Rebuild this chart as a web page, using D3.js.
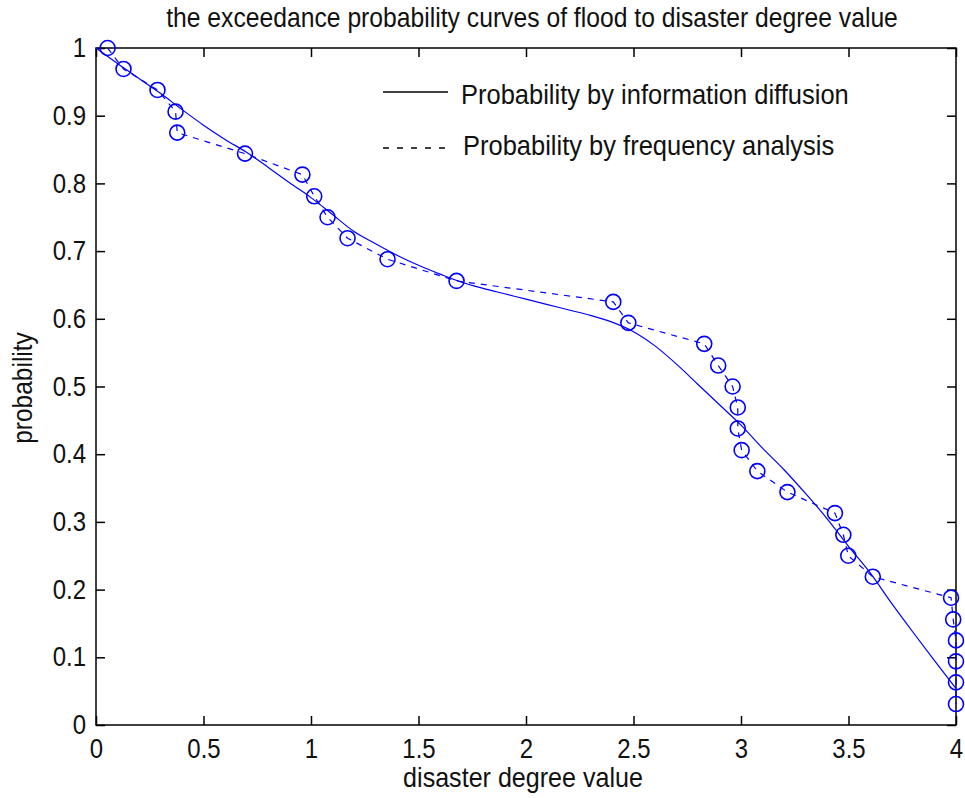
<!DOCTYPE html>
<html>
<head>
<meta charset="utf-8">
<script src="https://cdn.jsdelivr.net/npm/d3@7"></script>
<style>
  body { margin: 0; background: #fff; }
  svg text { font-family: "Liberation Sans", Arial, sans-serif; fill: #111; }
</style>
</head>
<body>
<svg></svg>
<script>
// frequency analysis points (circles + dashed line)
let freqX = [0.054, 0.128, 0.286, 0.370, 0.378, 0.693, 0.960, 1.015, 1.077, 1.170, 1.356, 1.677,
             2.406, 2.476, 2.829, 2.894, 2.961, 2.985, 2.985, 3.003, 3.076, 3.216, 3.437, 3.476,
             3.499, 3.613, 3.977, 3.987, 4.0, 4.0, 4.0, 4.0]
let freqY = [1.000, 0.969, 0.938, 0.906, 0.875, 0.844, 0.813, 0.781, 0.750, 0.719, 0.688, 0.656,
             0.625, 0.594, 0.563, 0.531, 0.500, 0.469, 0.438, 0.406, 0.375, 0.344, 0.313, 0.281,
             0.250, 0.219, 0.188, 0.156, 0.125, 0.094, 0.063, 0.031]

// information diffusion curve (solid line)
let diffX = [0, 0.1, 0.2, 0.3, 0.4, 0.5, 0.6, 0.7, 0.8, 0.9, 1.0, 1.1, 1.2, 1.3, 1.4, 1.5, 1.6, 1.7,
             1.8, 1.9, 2.0, 2.1, 2.2, 2.3, 2.4, 2.5, 2.6, 2.7, 2.8, 2.9, 3.0, 3.1, 3.2, 3.3, 3.4,
             3.5, 3.6, 3.7, 3.8, 3.9, 4.0]
let diffY = [1.000, 0.977, 0.955, 0.933, 0.909, 0.886, 0.865, 0.846, 0.824, 0.801, 0.779, 0.754,
             0.729, 0.711, 0.694, 0.679, 0.666, 0.654, 0.645, 0.637, 0.629, 0.621, 0.613, 0.605,
             0.595, 0.581, 0.560, 0.533, 0.503, 0.473, 0.443, 0.409, 0.377, 0.342, 0.305, 0.264,
             0.225, 0.180, 0.137, 0.095, 0.054]

let xTicks = [0, 0.5, 1, 1.5, 2, 2.5, 3, 3.5, 4]
let xTickLabels = ['0', '0.5', '1', '1.5', '2', '2.5', '3', '3.5', '4']
let yTicks = [0, 0.1, 0.2, 0.3, 0.4, 0.5, 0.6, 0.7, 0.8, 0.9, 1]
let yTickLabels = ['0', '0.1', '0.2', '0.3', '0.4', '0.5', '0.6', '0.7', '0.8', '0.9', '1']

let seriesNames = ['Probability by information diffusion', 'Probability by frequency analysis']

let width = 965
let height = 798
let plotLeft = 96, plotRight = 956, plotTop = 48, plotBottom = 725
let blue = '#0000ff'
let stretch = 1.12   // the reference text is a bit taller than Arial

let svg = d3.select('svg').attr('width', width).attr('height', height)

let xScale = d3.scaleLinear().domain([0, 4]).range([plotLeft, plotRight])
let yScale = d3.scaleLinear().domain([0, 1]).range([plotBottom, plotTop])

svg.append('rect').attr('width', width).attr('height', height).attr('fill', '#fff')

// text placed at a baseline point, stretched vertically
let addText = (x, y, size, str, anchor, rot) => {
    return svg.append('text')
       .attr('transform', 'translate(' + x + ',' + y + ')' + (rot ? ' rotate(' + rot + ')' : '') +
             ' scale(1,' + stretch + ')')
       .attr('text-anchor', anchor || 'start')
       .style('font-size', size + 'px')
       .text(str)
}

addText(532, 27, 24.7, 'the exceedance probability curves of flood to disaster degree value', 'middle')

// axes, ticks point inward
let styleAxis = (g) => {
    g.select('.domain').remove()
    g.selectAll('.tick line').attr('stroke', '#000').attr('stroke-width', 1.5)
    g.selectAll('.tick text').style('font-size', '24px').attr('fill', '#111')
     .attr('transform', 'scale(1,' + stretch + ')')
}

svg.append('g')
   .attr('transform', 'translate(0,' + plotBottom + ')')
   .call(d3.axisBottom(xScale).tickValues(xTicks).tickFormat((d, i) => xTickLabels[i])
         .tickSizeInner(-9).tickSizeOuter(0).tickPadding(12))
   .call(styleAxis)

svg.append('g')
   .attr('transform', 'translate(0,' + plotTop + ')')
   .call(d3.axisTop(xScale).tickValues(xTicks).tickFormat('')
         .tickSizeInner(-9).tickSizeOuter(0))
   .call(styleAxis)

svg.append('g')
   .attr('transform', 'translate(' + plotLeft + ',0)')
   .call(d3.axisLeft(yScale).tickValues(yTicks).tickFormat((d, i) => yTickLabels[i])
         .tickSizeInner(-9).tickSizeOuter(0).tickPadding(10))
   .call(styleAxis)

svg.append('g')
   .attr('transform', 'translate(' + plotRight + ',0)')
   .call(d3.axisRight(yScale).tickValues(yTicks).tickFormat('')
         .tickSizeInner(-9).tickSizeOuter(0))
   .call(styleAxis)

svg.append('rect')
   .attr('x', plotLeft).attr('y', plotTop)
   .attr('width', plotRight - plotLeft).attr('height', plotBottom - plotTop)
   .attr('fill', 'none').attr('stroke', '#000').attr('stroke-width', 1.5)

// axis labels
addText(523, 787, 25.1, 'disaster degree value', 'middle')
addText(32, 388, 24.5, 'probability', 'middle', -90)

let diffData = diffX.map((x, i) => [x, diffY[i]])
let freqData = freqX.map((x, i) => [x, freqY[i]])

// solid curve
svg.append('path')
   .datum(diffData)
   .attr('fill', 'none')
   .attr('stroke', blue)
   .attr('stroke-width', 1.2)
   .attr('d', d3.line().x(d => xScale(d[0])).y(d => yScale(d[1])).curve(d3.curveMonotoneX))

// dashed frequency line
svg.append('path')
   .datum(freqData)
   .attr('fill', 'none')
   .attr('stroke', blue)
   .attr('stroke-width', 1.2)
   .attr('stroke-dasharray', '6,6')
   .attr('d', d3.line().x(d => xScale(d[0])).y(d => yScale(d[1])))

svg.selectAll('circle.pt')
   .data(freqData)
   .enter()
   .append('circle')
   .attr('class', 'pt')
   .attr('cx', d => xScale(d[0]))
   .attr('cy', d => yScale(d[1]))
   .attr('r', 7.5)
   .attr('fill', 'none')
   .attr('stroke', blue)
   .attr('stroke-width', 1.6)

// legend (no box)
svg.append('line')
   .attr('x1', 383).attr('x2', 448).attr('y1', 92).attr('y2', 92)
   .attr('stroke', '#000').attr('stroke-width', 1.5)
addText(461, 104, 25.5, seriesNames[0])
svg.append('line')
   .attr('x1', 383).attr('x2', 453).attr('y1', 148).attr('y2', 148)
   .attr('stroke', '#000').attr('stroke-width', 1.3)
   .attr('stroke-dasharray', '6,8')
addText(463, 155, 25.5, seriesNames[1])
</script>
</body>
</html>
